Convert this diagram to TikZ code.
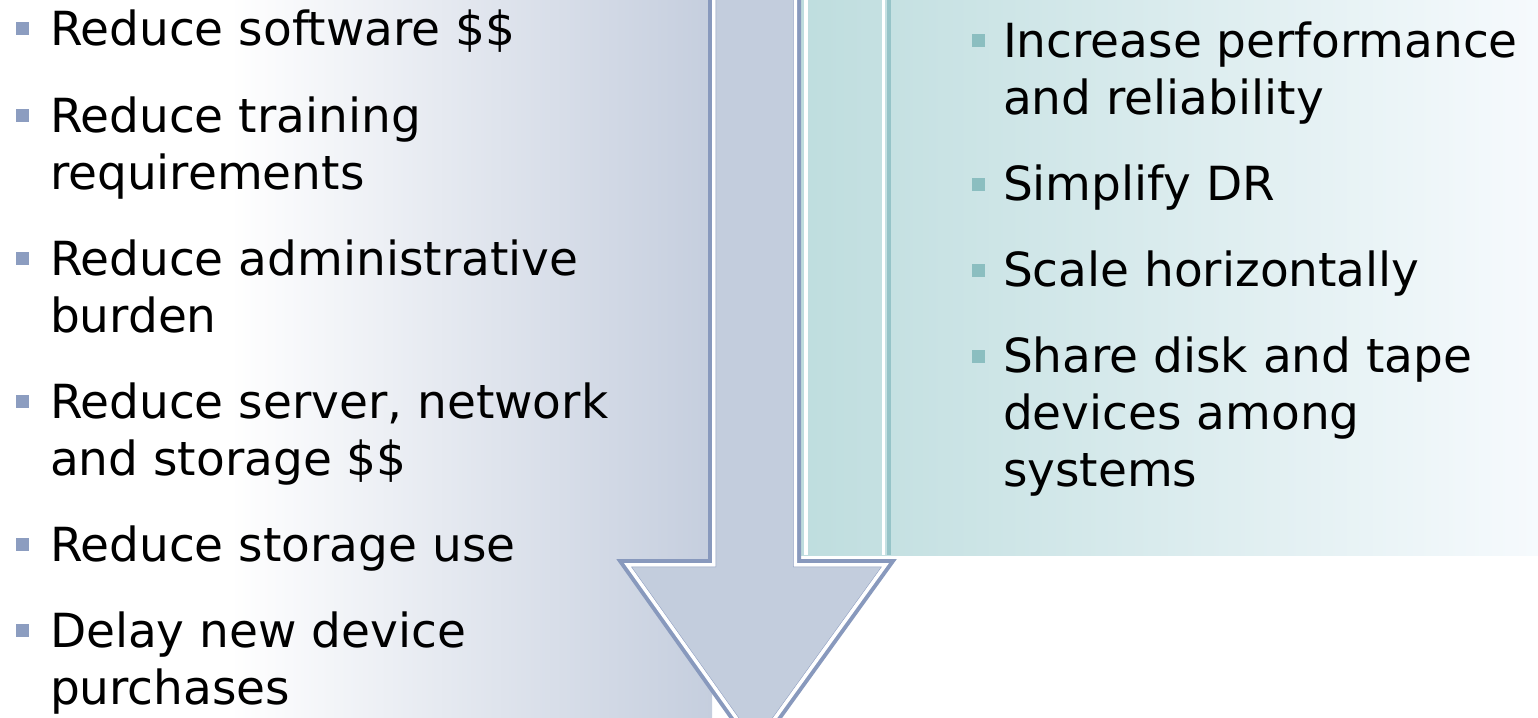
\documentclass[tikz,border=0pt]{standalone}
\usepackage{fontspec}
\setmainfont{DejaVu Sans}
\definecolor{panelL}{RGB}{197,206,222}
\definecolor{shaftc}{RGB}{195,205,221}
\definecolor{edgec}{RGB}{136,153,189}
\definecolor{tealA}{RGB}{190,221,222}
\definecolor{tealB}{RGB}{246,250,253}
\definecolor{tealedge}{RGB}{150,196,200}
\definecolor{bulL}{RGB}{140,157,192}
\definecolor{bulR}{RGB}{139,190,192}
\tikzset{
  txt/.style={anchor=base west, inner sep=0pt, outer sep=0pt, font=\fontsize{47}{57}\selectfont, text=black},
  bulletL/.style={fill=bulL, minimum size=13pt, inner sep=0pt, outer sep=0pt},
  bulletR/.style={fill=bulR, minimum size=13pt, inner sep=0pt, outer sep=0pt},
  arrowpath/.style={line join=miter}
}
\begin{document}
\begin{tikzpicture}[x=1pt,y=-1pt]
\useasboundingbox (0,0) rectangle (1538,717);
\fill[white] (0,0) rectangle (1538,717);
% left panel
\shade[left color=white, right color=panelL] (230,0) rectangle (712,717);
% right panel
\shade[left color=tealA, right color=tealB] (797,0) rectangle (1538,555);
\draw[white, line width=4pt] (806,0) -- (806,555);
\draw[white, line width=3pt] (883,0) -- (883,555);
\draw[tealedge, line width=4pt] (889,0) -- (889,555);
% arrow
\def\arrowshape{(712,-20) -- (712,563) -- (624,563) -- (755.5,748) -- (889,563) -- (797,563) -- (797,-20) -- cycle}
\fill[shaftc] \arrowshape;
\draw[edgec, line width=8pt, arrowpath] \arrowshape;
\begin{scope}
  \clip \arrowshape;
  \draw[white, line width=7pt, arrowpath] \arrowshape;
\end{scope}
% left bullets and text
\node[bulletL] (bl1) at (22.5,29) {};
\node[txt] (l1) at (50,46) {Reduce software \$\$};
\node[bulletL] (bl2) at (22.5,115) {};
\node[txt] (l2) at (50,132) {Reduce training};
\node[txt] (l3) at (50,189) {requirements};
\node[bulletL] (bl3) at (22.5,258) {};
\node[txt] (l4) at (50,275) {Reduce administrative};
\node[txt] (l5) at (50,332) {burden};
\node[bulletL] (bl4) at (22.5,401) {};
\node[txt] (l6) at (50,418) {Reduce server, network};
\node[txt] (l7) at (50,475) {and storage \$\$};
\node[bulletL] (bl5) at (22.5,544) {};
\node[txt] (l8) at (50,561) {Reduce storage use};
\node[bulletL] (bl6) at (22.5,630) {};
\node[txt] (l9) at (50,647) {Delay new device};
\node[txt] (l10) at (50,704) {purchases};
% right bullets and text
\node[bulletR] (br1) at (978,41) {};
\node[txt] (r1) at (1003,57) {Increase performance};
\node[txt] (r2) at (1003,114) {and reliability};
\node[bulletR] (br2) at (978,184) {};
\node[txt] (r3) at (1003,200) {Simplify DR};
\node[bulletR] (br3) at (978,270) {};
\node[txt] (r4) at (1003,286) {Scale horizontally};
\node[bulletR] (br4) at (978,356) {};
\node[txt] (r5) at (1003,372) {Share disk and tape};
\node[txt] (r6) at (1003,429) {devices among};
\node[txt] (r7) at (1003,486) {systems};
\end{tikzpicture}
\end{document}
